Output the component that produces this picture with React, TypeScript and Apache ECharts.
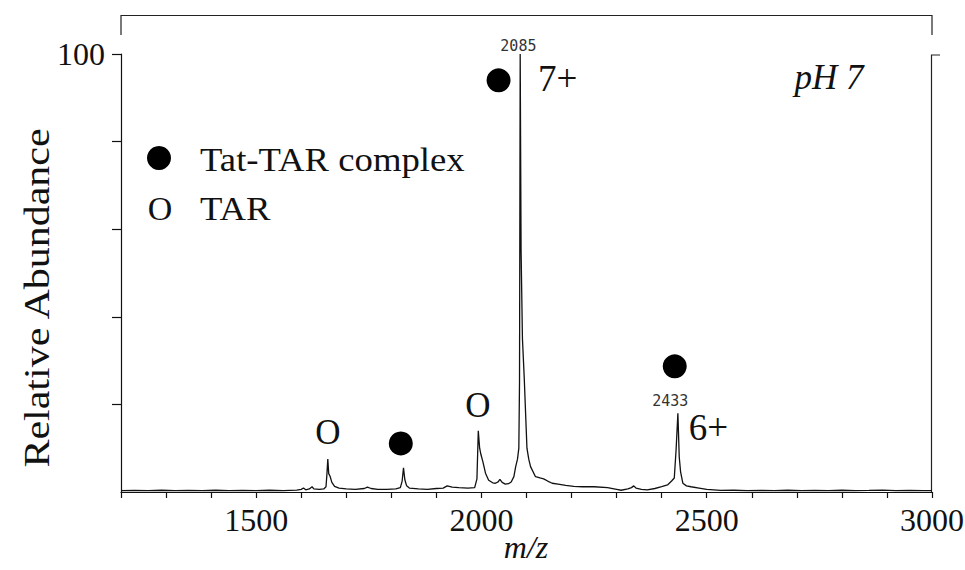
import React, { useEffect, useRef } from "react";
import * as echarts from "echarts";

// m/z axis range and ticks
const mzMin = 1200;
const mzMax = 3000;
const mzTickStep = 100;
const mzLabelValues = [1500, 2000, 2500, 3000];
const abundanceTicks = [20, 40, 60, 80, 100];
const abundanceLabelValues = [100];

// spectrum trace: [m/z, relative abundance]
const spectrumMz = [
  1200, 1230, 1260, 1290, 1320, 1350, 1380, 1410, 1440, 1470, 1500, 1530, 1560, 1590, 1600, 1605, 1610, 1618, 1624, 1628,
  1640, 1650, 1655, 1657, 1659, 1661, 1664, 1668, 1674, 1684, 1700, 1720, 1740, 1747, 1755, 1770, 1790, 1810, 1820, 1824,
  1827, 1830, 1834, 1840, 1860, 1880, 1900, 1915, 1924, 1935, 1950, 1970, 1985, 1990, 1993, 1996, 1999, 2003, 2009, 2016,
  2025, 2031, 2037, 2041, 2046, 2053, 2060, 2066, 2072, 2076, 2080, 2083, 2084.5, 2086, 2088, 2091, 2095, 2098, 2101, 2105,
  2109, 2120, 2130, 2138, 2147, 2157, 2170, 2187, 2205, 2224, 2250, 2280, 2300, 2310, 2325, 2333, 2338, 2343, 2355, 2368,
  2385, 2400, 2413, 2422, 2428, 2432, 2436, 2439, 2442, 2447, 2455, 2465, 2483, 2500, 2531, 2560, 2590, 2620, 2650, 2680,
  2710, 2740, 2770, 2800, 2830, 2860, 2890, 2920, 2950, 2980, 3000,
];
const spectrumAbundance = [
  0.3, 0.35, 0.3, 0.4, 0.3, 0.35, 0.3, 0.4, 0.3, 0.35, 0.3, 0.4, 0.3, 0.45, 0.6, 0.9, 0.5, 0.7, 1.2, 0.7,
  0.6, 0.7, 1.2, 4.0, 7.5, 4.2, 3.6, 2.2, 1.3, 0.9, 0.7, 0.6, 0.8, 1.1, 0.8, 0.6, 0.6, 0.7, 1.0, 2.5,
  5.5, 2.8, 1.4, 0.9, 0.7, 0.6, 0.8, 0.9, 1.4, 1.1, 1.0, 0.9, 1.0, 3.0, 14.0, 10.0, 8.5, 7.0, 4.3, 2.7,
  2.1, 2.0, 2.3, 2.9, 2.2, 1.8, 1.9, 2.3, 3.5, 5.8, 7.5, 10.0, 25.0, 100.0, 55.0, 35.0, 26.0, 18.0, 10.0, 7.5,
  5.8, 3.5, 3.2, 3.0, 2.5, 2.0, 1.8, 1.5, 1.3, 1.2, 1.2, 1.0, 0.6, 0.4, 0.7, 1.0, 1.4, 0.9, 0.6, 0.5,
  0.8, 1.2, 1.6, 2.5, 3.2, 9.6, 18.0, 8.0, 4.6, 2.0, 1.4, 1.2, 0.9, 0.6, 0.35, 0.4, 0.3, 0.35, 0.3, 0.4,
  0.3, 0.35, 0.3, 0.4, 0.3, 0.35, 0.45, 0.3, 0.35, 0.3, 0.3,
];

// Tat-TAR complex markers (filled circles): [m/z, abundance]
const complexMarkerMz = [2038, 1821, 2429];
const complexMarkerY = [94, 11.1, 28.7];

// free TAR markers ("O")
const tarMarkerMz = [1659, 1992];
const tarMarkerY = [13.6, 19.7];

// charge-state labels
const chargeLabels = ["7+", "6+"];
const chargeMz = [2169, 2504];
const chargeY = [94.5, 14.8];

// peak m/z labels
const peakLabels = ["2085", "2433"];
const peakLabelMz = [2082, 2419];
const peakLabelY = [101.8, 20.8];

const SERIF = "'Liberation Serif', 'Times New Roman', serif";
const MONO = "'DejaVu Sans Mono', 'Liberation Mono', monospace";
const INK = "#111";

export default function App() {
  const ref = useRef<HTMLDivElement>(null);

  useEffect(() => {
    if (!ref.current) return;
    const chart = echarts.init(ref.current, undefined, { renderer: "svg" });

    const spectrum = spectrumMz.map((m, i) => [m, spectrumAbundance[i]]);
    const complexPts = complexMarkerMz.map((m, i) => [m, complexMarkerY[i]]);
    const textPts: any[] = [];
    tarMarkerMz.forEach((m, i) =>
      textPts.push({
        value: [m, tarMarkerY[i]],
        name: "O",
        label: { fontFamily: SERIF, fontSize: 35, color: INK },
      })
    );
    chargeLabels.forEach((t, i) =>
      textPts.push({
        value: [chargeMz[i], chargeY[i]],
        name: t,
        label: { fontFamily: SERIF, fontSize: 37, color: INK },
      })
    );
    peakLabels.forEach((t, i) =>
      textPts.push({
        value: [peakLabelMz[i], peakLabelY[i]],
        name: t,
        label: { fontFamily: MONO, fontSize: 15, color: "#333" },
      })
    );

    chart.setOption({
      animation: false,
      backgroundColor: "#fff",
      grid: { left: 121, right: 33, top: 54, bottom: 78, outerBoundsMode: "none", containLabel: false },
      xAxis: {
        type: "value",
        min: mzMin,
        max: mzMax,
        interval: mzTickStep,
        axisLine: { show: true, onZero: false, lineStyle: { color: INK, width: 1.2 } },
        axisTick: { show: true, inside: false, length: 6, lineStyle: { color: INK, width: 1.2 } },
        axisLabel: {
          fontFamily: SERIF,
          fontSize: 32,
          color: INK,
          margin: 12,
          formatter: (v: number) => (mzLabelValues.includes(v) ? String(v) : ""),
        },
        splitLine: { show: false },
      },
      yAxis: {
        type: "value",
        min: 0,
        max: 100,
        interval: 20,
        axisLine: { show: true, lineStyle: { color: INK, width: 1.2 } },
        axisTick: {
          show: true,
          inside: false,
          length: 9,
          customValues: abundanceTicks,
          lineStyle: { color: INK, width: 1.2 },
        },
        axisLabel: {
          fontFamily: SERIF,
          fontSize: 32,
          color: INK,
          margin: 16,
          customValues: abundanceLabelValues,
          formatter: (v: number) => (abundanceLabelValues.includes(v) ? String(v) : ""),
        },
        splitLine: { show: false },
      },
      series: [
        {
          type: "line",
          data: spectrum,
          showSymbol: false,
          symbol: "none",
          lineStyle: { color: INK, width: 1.3 },
          z: 3,
        },
        {
          type: "scatter",
          data: complexPts,
          symbol: "circle",
          symbolSize: 24,
          itemStyle: { color: "#000", opacity: 1 },
          clip: false,
          z: 4,
        },
        {
          type: "scatter",
          data: textPts,
          symbolSize: 0,
          itemStyle: { color: "#000", opacity: 1 },
          clip: false,
          label: {
            show: true,
            position: [0, 0],
            formatter: (p: any) => p.name,
            color: INK,
            opacity: 1,
            textBorderWidth: 0,
            align: "center",
            verticalAlign: "middle",
          },
          z: 5,
        },
      ],
      graphic: [
        {
          type: "polyline",
          shape: { points: [[121, 35], [121, 15.5], [932, 15.5], [932, 35]] },
          style: { stroke: "#222", lineWidth: 1.2, fill: "none" },
        },
        {
          type: "polyline",
          shape: { points: [[940, 55], [931.5, 55], [931.5, 492]] },
          style: { stroke: "#222", lineWidth: 1.2, fill: "none" },
        },
        {
          type: "text",
          x: 526,
          y: 547,
          style: {
            text: "m/z",
            fontFamily: SERIF,
            fontStyle: "italic",
            fontSize: 32,
            fill: INK,
            align: "center",
            verticalAlign: "middle",
          },
        },
        {
          type: "text",
          x: 37,
          y: 298,
          rotation: Math.PI / 2,
          scaleX: 1.2,
          style: {
            text: "Relative Abundance",
            fontFamily: SERIF,
            fontSize: 35,
            fill: INK,
            align: "center",
            verticalAlign: "middle",
          },
        },
        { type: "circle", shape: { cx: 159, cy: 158, r: 12 }, style: { fill: "#000" } },
        {
          type: "text",
          x: 200,
          y: 159,
          scaleX: 1.08,
          style: { text: "Tat-TAR complex", fontFamily: SERIF, fontSize: 34, fill: INK, align: "left", verticalAlign: "middle" },
        },
        {
          type: "text",
          x: 160,
          y: 208,
          style: { text: "O", fontFamily: SERIF, fontSize: 34, fill: INK, align: "center", verticalAlign: "middle" },
        },
        {
          type: "text",
          x: 200,
          y: 208,
          scaleX: 1.08,
          style: { text: "TAR", fontFamily: SERIF, fontSize: 34, fill: INK, align: "left", verticalAlign: "middle" },
        },
        {
          type: "text",
          x: 829,
          y: 77,
          style: {
            text: "pH 7",
            fontFamily: SERIF,
            fontStyle: "italic",
            fontSize: 35,
            fill: INK,
            align: "center",
            verticalAlign: "middle",
          },
        },
      ],
    });

    return () => chart.dispose();
  }, []);

  return (
    <div
      ref={ref}
      style={{ position: "absolute", left: 0, top: 0, width: 965, height: 570, background: "#fff" }}
    />
  );
}
